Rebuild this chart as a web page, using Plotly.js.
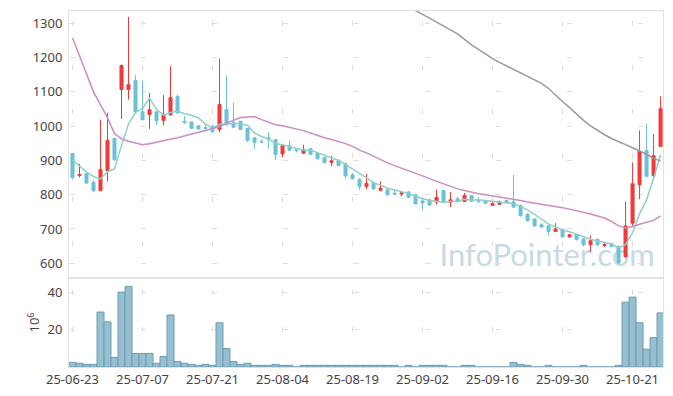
<!DOCTYPE html>
<html>
<head>
<meta charset="utf-8">
<script src="https://cdn.plot.ly/plotly-3.0.1.min.js"></script>
<style>html,body{margin:0;padding:0;background:#fff;}#chart{width:673px;height:396px;}</style>
</head>
<body>
<div id="chart"></div>
<script>
const dates = ['25-06-23','25-06-24','25-06-25','25-06-26','25-06-27','25-06-30',
'25-07-01','25-07-02','25-07-03','25-07-04','25-07-07','25-07-08','25-07-09','25-07-10','25-07-11',
'25-07-14','25-07-15','25-07-16','25-07-17','25-07-18','25-07-21','25-07-22','25-07-23','25-07-24','25-07-25',
'25-07-28','25-07-29','25-07-30','25-07-31','25-08-01','25-08-04','25-08-05','25-08-06','25-08-07','25-08-08',
'25-08-11','25-08-12','25-08-13','25-08-14','25-08-18','25-08-19','25-08-20','25-08-21','25-08-22',
'25-08-25','25-08-26','25-08-27','25-08-28','25-08-29','25-09-01','25-09-02','25-09-03','25-09-04','25-09-05',
'25-09-08','25-09-09','25-09-10','25-09-11','25-09-12','25-09-15','25-09-16','25-09-17','25-09-18','25-09-19',
'25-09-22','25-09-23','25-09-24','25-09-25','25-09-26','25-09-29','25-09-30','25-10-01','25-10-02','25-10-10',
'25-10-13','25-10-14','25-10-15','25-10-16','25-10-17','25-10-20','25-10-21','25-10-22','25-10-23','25-10-24','25-10-27'];

const openP = [920,856,862,836,812,870,964,1107,1107,1133,1042,1034,1042,1017,1033,1086,1014,1012,1001,996,
999,990,1048,1011,1014,993,966,956,966,961,919,943,931,921,934,921,909,894,899,891,
858,844,824,834,813,814,804,802,808,800,782,785,779,812,778,788,780,797,784,783,
769,772,783,779,769,743,729,712,709,693,699,677,684,671,654,670,652,657,649,619,
717,829,929,856,941];
const highP = [922,890,864,842,1019,1039,966,1180,1319,1149,1133,1097,1044,1091,1175,1092,1029,1014,1003,1006,
1004,1197,1148,1068,1016,994,967,962,983,962,944,958,936,946,936,923,910,914,904,892,
864,849,861,839,839,816,814,811,810,801,790,788,815,814,808,794,805,798,793,784,
780,783,785,858,771,745,731,716,711,717,701,685,686,673,681,672,659,660,652,780,
894,988,1007,977,1087];
const lowP = [844,850,832,808,810,839,899,1021,1078,1039,1017,992,1004,1002,1031,1037,1007,991,989,989,
980,982,1001,996,989,954,934,950,934,902,910,929,924,920,916,903,891,883,884,846,
844,814,816,814,810,797,799,796,790,772,754,767,771,775,764,777,779,779,776,771,
769,770,775,762,736,722,707,702,681,692,674,674,667,649,632,649,647,647,599,616,
707,787,851,846,939];
const closeP = [850,859,834,812,873,958,902,1177,1121,1041,1019,1048,1016,1034,1083,1039,1010,994,992,994,
984,1063,1004,997,990,958,953,954,961,917,943,930,929,931,918,905,894,899,885,855,
847,824,833,817,819,800,802,805,793,773,776,770,792,778,785,780,798,781,781,776,
774,778,777,764,739,724,709,706,693,700,677,683,669,654,666,654,655,649,601,709,
832,927,854,914,1051];

const ma5 = [902,883,866,853,846,867,876,944,1006,1040,1052,1081,1049,1032,1040,1044,1036,1032,1024,1006,
995,1005,1007,1008,1008,1002,980,970,963,949,946,941,936,930,930,923,915,909,900,888,
876,862,849,835,828,819,814,809,804,795,790,783,781,778,780,781,787,784,785,783,
782,778,777,774,766,756,743,728,714,706,697,692,684,677,670,665,660,656,645,654,
689,744,785,847,916];
const ma20 = [1258,1206,1150,1100,1062,1025,978,963,956,950,946,949,954,957,962,966,971,976,981,987,
991,998,1009,1018,1025,1027,1028,1019,1011,1004,1001,997,992,987,980,972,966,961,956,949,
941,930,922,912,902,893,885,878,870,863,855,847,839,832,824,817,812,807,803,800,
797,793,790,787,783,779,776,773,769,766,762,758,754,750,744,738,732,722,709,703,
707,714,719,725,738];
const ma60 = [null,null,null,null,null,null,null,null,null,null,null,null,null,null,null,null,null,null,null,null,
null,null,null,null,null,null,null,null,null,null,null,null,null,null,null,null,null,null,null,null,
null,null,null,null,null,null,null,null,1348,1336,1326,1315,1303,1292,1281,1269,1253,1237,1224,1210,
1197,1186,1176,1166,1156,1146,1136,1125,1110,1090,1072,1054,1035,1017,1001,987,975,964,956,946,
937,928,918,906,898];
const volume = [2.5,2.0,1.4,1.4,29.6,24.3,5.2,40.3,43.4,7.3,7.3,7.3,2.0,5.7,28.0,3.0,2.0,1.4,0.9,1.4,
0.9,23.8,9.9,3.0,1.4,2.0,0.9,0.9,0.9,1.4,0.9,0.9,0,0.9,0.9,0.9,0.9,0.9,0.9,0.9,
0.9,0.9,0.9,0.9,0.9,0.9,0.9,0,0.9,0,0.9,0.9,0.9,0.9,0,0,0.9,0.9,0,0,
0,0,0,2.5,1.4,0.9,0,0,0.9,0,0,0,0,0.9,0,0,0,0,0.9,34.9,
37.6,23.8,9.6,15.8,29.1];
const tickLabels = ['25-06-23','25-07-07','25-07-21','25-08-04','25-08-19','25-09-02','25-09-16','25-09-30','25-10-21'];
const priceTicks = [600,700,800,900,1000,1100,1200,1300];
const volTicks = [20,40];

// layout geometry (style only)
const W=673, H=396, M={l:69,r:10,t:11,b:29};
const plotW=W-M.l-M.r, plotH=H-M.t-M.b, split=0.25;
const xR=[-0.5,84.35], pR=[557,1336], vR=[0,47.9];
const pxX=plotW/(xR[1]-xR[0]);
const pxP=plotH*(1-split)/(pR[1]-pR[0]);
const pxV=plotH*split/(vR[1]-vR[0]);
const arm=5;
function dash(parts){return parts.map(v=>Math.max(0,v).toFixed(2)+'px').join(',');}
const yGridDash = dash([0,(0-xR[0])*pxX-arm/2,arm,10*pxX-arm]);
const xGridDashP = dash([0,(pR[1]-priceTicks[priceTicks.length-1])*pxP-arm/2,arm,100*pxP-arm]);
const xGridDashV = dash([0,(vR[1]-40)*pxV-arm/2,arm,20*pxV-arm,arm,1000]);

const gridC='#dcdcdc', lineC='#e2e2e2';
const font={family:'"Noto Sans", "DejaVu Sans", sans-serif', size:13, color:'#444'};

const traces = [
 {type:'bar', x:dates, y:volume, xaxis:'x2', yaxis:'y2',
  marker:{color:'#98bfcf', line:{color:'#6a9cb5', width:1}}, hoverinfo:'skip'},
 {type:'candlestick', x:dates, open:openP, high:highP, low:lowP, close:closeP, xaxis:'x', yaxis:'y',
  increasing:{line:{color:'#f03a3a', width:1}, fillcolor:'#f03a3a'},
  decreasing:{line:{color:'#6cc1d7', width:1}, fillcolor:'#6cc1d7'},
  whiskerwidth:0, hoverinfo:'skip'},
 {type:'scatter', mode:'lines', x:dates, y:ma5, xaxis:'x', yaxis:'y', line:{color:'#8fd0c6', width:1.5}, hoverinfo:'skip'},
 {type:'scatter', mode:'lines', x:dates, y:ma20, xaxis:'x', yaxis:'y', line:{color:'#cc8cc2', width:1.5}, hoverinfo:'skip'},
 {type:'scatter', mode:'lines', x:dates, y:ma60, xaxis:'x', yaxis:'y', line:{color:'#9a9a9a', width:1.5}, hoverinfo:'skip', connectgaps:false}
];

const axBase = {showline:true, mirror:true, linecolor:lineC, linewidth:1, zeroline:false, ticks:'', showgrid:true, gridcolor:gridC, gridwidth:1};

const layout = {
 width:W, height:H, margin:M, paper_bgcolor:'#fff', plot_bgcolor:'#fff',
 showlegend:false, font:font, boxgap:0.38, bargap:0,
 xaxis: Object.assign({}, axBase, {type:'category', domain:[0,1], anchor:'y', range:xR, tickvals:tickLabels,
   showticklabels:false, griddash:xGridDashP, rangeslider:{visible:false}, fixedrange:true}),
 yaxis: Object.assign({}, axBase, {domain:[split,1], anchor:'x', range:pR, tickvals:priceTicks,
   griddash:yGridDash, tickfont:font, ticklabelstandoff:3}),
 xaxis2: Object.assign({}, axBase, {type:'category', domain:[0,1], anchor:'y2', matches:'x', range:xR,
   tickvals:tickLabels, ticktext:tickLabels, griddash:xGridDashV, tickfont:font}),
 yaxis2: Object.assign({}, axBase, {domain:[0,split], anchor:'x2', range:vR, tickvals:volTicks,
   griddash:yGridDash, tickfont:font, ticklabelstandoff:3, title:{text:'10<sup>6</sup>', font:font, standoff:4}}),
 shapes:[{type:'rect', xref:'paper', yref:'paper', x0:0.62, x1:0.99, y0:0.26, y1:0.375, layer:'below',
   line:{width:0}, fillcolor:'rgba(0,0,0,0)',
   label:{text:'InfoPointer.com', textposition:'middle center', font:{family:'Lato, "Open Sans", sans-serif', size:31, color:'#c8dae4'}}}]
};

Plotly.newPlot('chart', traces, layout, {displayModeBar:false, staticPlot:true});
</script>
</body>
</html>
